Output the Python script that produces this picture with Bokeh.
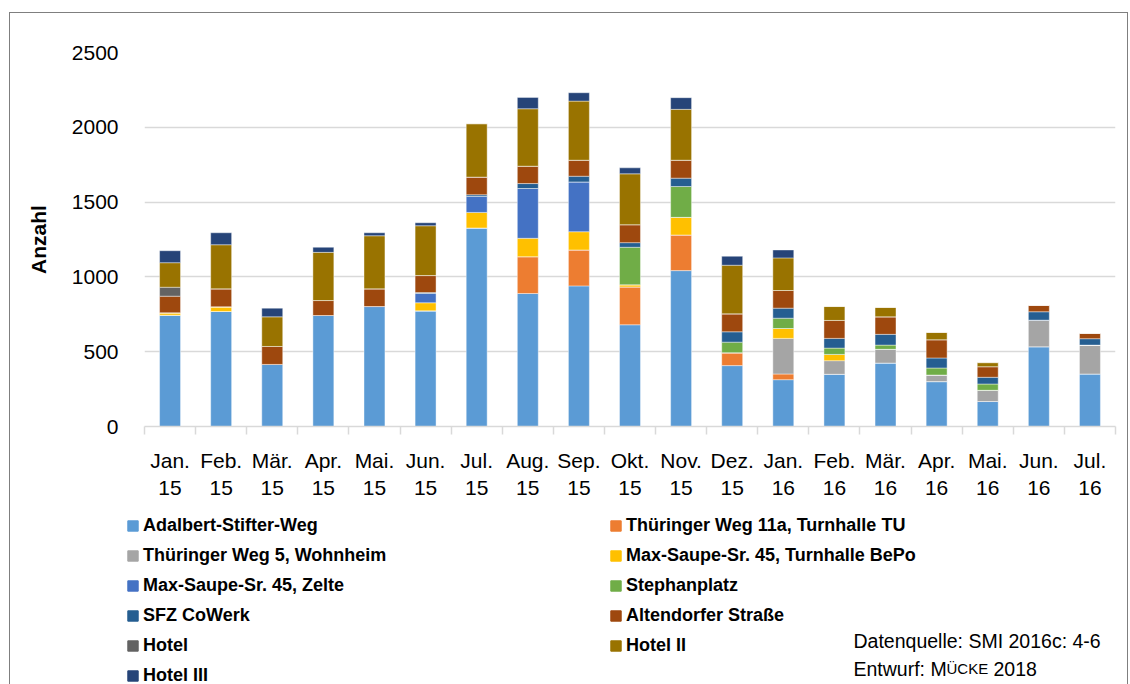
from bokeh.plotting import figure
from bokeh.layouts import column, row
from bokeh.models import ColumnDataSource, Range1d, FixedTicker, Label, Legend, LegendItem
from bokeh.embed import file_html
from bokeh.resources import INLINE

months = ["Jan.\n15", "Feb.\n15", "Mär.\n15", "Apr.\n15", "Mai.\n15", "Jun.\n15", "Jul.\n15",
          "Aug.\n15", "Sep.\n15", "Okt.\n15", "Nov.\n15", "Dez.\n15", "Jan.\n16", "Feb.\n16",
          "Mär.\n16", "Apr.\n16", "Mai.\n16", "Jun.\n16", "Jul.\n16"]

adalbert    = [744, 769, 415, 742, 802, 773, 1327, 889, 940, 680, 1042, 407, 313, 349, 424, 300, 167, 533, 351]
thue11a     = [0, 0, 0, 0, 0, 0, 0, 246, 240, 253, 238, 86, 38, 0, 0, 0, 0, 0, 0]
thue5       = [0, 0, 0, 0, 0, 0, 0, 0, 0, 0, 0, 0, 238, 91, 92, 44, 75, 178, 193]
bepo        = [16, 31, 0, 0, 0, 54, 104, 123, 122, 14, 118, 0, 66, 42, 0, 0, 0, 0, 0]
zelte       = [0, 0, 0, 0, 0, 62, 107, 333, 333, 0, 0, 0, 0, 0, 0, 0, 0, 0, 0]
stephan     = [0, 0, 0, 0, 0, 0, 0, 0, 0, 251, 206, 71, 69, 42, 28, 47, 42, 0, 0]
sfz         = [0, 0, 0, 0, 0, 6, 11, 33, 38, 31, 56, 69, 67, 65, 72, 67, 45, 56, 43]
altendorfer = [111, 120, 120, 100, 118, 114, 118, 116, 107, 120, 120, 120, 118, 120, 117, 122, 71, 44, 37]
hotel       = [60, 0, 0, 0, 0, 0, 0, 0, 0, 0, 0, 0, 0, 0, 0, 0, 0, 0, 0]
hotel2      = [164, 295, 198, 322, 355, 333, 357, 384, 395, 340, 340, 325, 218, 93, 63, 49, 27, 0, 0]
hotel3      = [80, 80, 58, 34, 20, 20, 0, 76, 56, 40, 78, 60, 53, 0, 0, 0, 0, 0, 0]

series_names = ["Adalbert-Stifter-Weg", "Thüringer Weg 11a, Turnhalle TU", "Thüringer Weg 5, Wohnheim",
                "Max-Saupe-Sr. 45, Turnhalle BePo", "Max-Saupe-Sr. 45, Zelte", "Stephanplatz",
                "SFZ CoWerk", "Altendorfer Straße", "Hotel", "Hotel II", "Hotel III"]
series_data = [adalbert, thue11a, thue5, bepo, zelte, stephan, sfz, altendorfer, hotel, hotel2, hotel3]
colors = ["#5B9BD5", "#ED7D31", "#A5A5A5", "#FFC000", "#4472C4", "#70AD47",
          "#255E91", "#9E480E", "#636363", "#997300", "#264478"]
y_ticks = [0, 500, 1000, 1500, 2000, 2500]

n = len(months)
xs = [i + 0.5 for i in range(n)]
keys = ["s%d" % i for i in range(len(series_names))]
data = {"x": xs}
for k, d in zip(keys, series_data):
    data[k] = d
source = ColumnDataSource(data)

FONT = "Liberation Sans"

# ---------------- chart ----------------
p = figure(width=1117, height=492, output_backend="svg", toolbar_location=None,
           x_range=Range1d(0, n), y_range=Range1d(0, 2500),
           min_border_left=134, min_border_right=12, min_border_top=39, min_border_bottom=79)
p.outline_line_color = None
p.background_fill_color = "white"
p.border_fill_color = "white"

p.vbar_stack(keys, x="x", width=0.41, source=source, color=colors,
             line_color="white", line_width=0.6, line_alpha=0.7)

xa = p.xaxis[0]
xa.ticker = FixedTicker(ticks=xs, minor_ticks=list(range(n + 1)))
xa.major_label_overrides = {x: m for x, m in zip(xs, months)}
xa.major_tick_in = 0
xa.major_tick_out = 0
xa.minor_tick_in = 0
xa.minor_tick_out = 8
xa.minor_tick_line_color = "#d9d9d9"
xa.minor_tick_line_width = 1.5
xa.axis_line_color = "#d9d9d9"
xa.axis_line_width = 1.5
xa.major_label_standoff = 14
xa.major_label_text_font = FONT
xa.major_label_text_font_size = "21px"
xa.major_label_text_color = "#000000"

ya = p.yaxis[0]
ya.ticker = FixedTicker(ticks=y_ticks)
ya.axis_line_color = None
ya.major_tick_line_color = None
ya.minor_tick_line_color = None
ya.major_label_standoff = 20
ya.major_label_text_font = FONT
ya.major_label_text_font_size = "21px"
ya.major_label_text_color = "#000000"
ya.axis_label = "Anzahl"
ya.axis_label_text_font = FONT
ya.axis_label_text_font_style = "bold"
ya.axis_label_text_font_size = "21px"
ya.axis_label_text_color = "#000000"
ya.axis_label_standoff = 19

p.xgrid.grid_line_color = None
p.ygrid.grid_line_color = "#d9d9d9"
p.ygrid.grid_line_width = 1.5

# ---------------- legend + notes ----------------
q = figure(width=1117, height=179, output_backend="svg", toolbar_location=None,
           x_range=Range1d(0, 1), y_range=Range1d(0, 1),
           min_border_left=0, min_border_right=0, min_border_top=0, min_border_bottom=0)
q.axis.visible = False
q.grid.visible = False
q.outline_line_color = None
q.border_fill_color = "white"

legend_renderers = q.vbar_stack(keys, x="x", width=0.41, source=source, color=colors, visible=False)
items = [LegendItem(label=nm, renderers=[r]) for nm, r in zip(series_names, legend_renderers)]

lg = Legend(items=items, orientation="horizontal", ncols=2, location=(116, -2),
            padding=0, margin=0, spacing=9, glyph_width=13, glyph_height=13,
            label_standoff=4, label_width=457,
            label_text_font=FONT, label_text_font_style="bold", label_text_font_size="18px",
            label_text_color="#000000", border_line_color=None, background_fill_alpha=0)
q.add_layout(lg)

for txt, xx, yy, fs in [("Datenquelle: SMI 2016c: 4-6", 843, 44, "19.5px"),
                        ("Entwurf: M", 843, 16, "19.5px"),
                        ("ÜCKE", 936, 16, "15px"),
                        ("2018", 983, 16, "19.5px")]:
    q.add_layout(Label(x=xx, y=yy, x_units="screen", y_units="screen", text=txt,
                       text_font=FONT, text_font_size=fs,
                       text_baseline="middle", text_align="left", text_color="#000000"))

lay = column(p, row(q), spacing=0)
lay.styles = {"border": "1px solid #7f7f7f", "border-bottom": "none", "margin": "12px 0 0 9px"}

open("out.html", "w").write(file_html(lay, INLINE))
